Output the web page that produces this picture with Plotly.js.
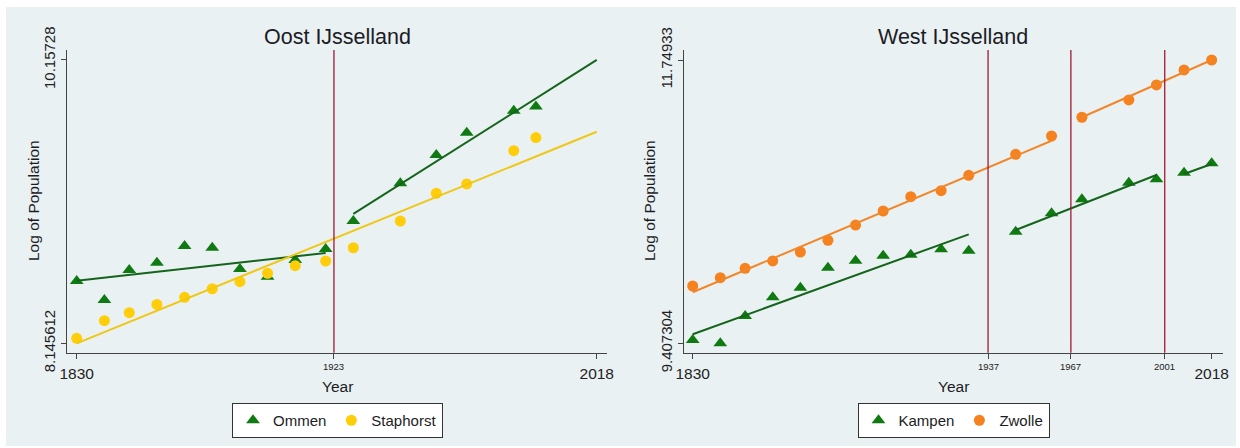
<!DOCTYPE html>
<html>
<head>
<meta charset="utf-8">
<script src="https://cdn.plot.ly/plotly-3.0.1.min.js"></script>
<style>
  html, body { margin: 0; padding: 0; background: #ffffff; }
  #chart { width: 1240px; height: 448px; }
</style>
</head>
<body>
<div id="chart"></div>
<script>
// ---- Oost IJsselland: census years and log population ----
const oostYears = [1830, 1840, 1849, 1859, 1869, 1879, 1889, 1899, 1909, 1920, 1930, 1947, 1960, 1971, 1988, 1996];
const ommen     = [8.588, 8.453, 8.666, 8.718, 8.837, 8.824, 8.673, 8.619, 8.737, 8.815, 9.014, 9.282, 9.483, 9.641, 9.797, 9.826];
const staphorst = [8.181, 8.306, 8.363, 8.422, 8.472, 8.533, 8.583, 8.643, 8.697, 8.730, 8.824, 9.014, 9.211, 9.277, 9.513, 9.606];

// Linear fits (segment end points)
const ommenFitAYears = [1830, 1920];
const ommenFitA      = [8.590, 8.787];
const ommenFitBYears = [1930, 2018];
const ommenFitB      = [9.064, 10.15728];
const staphorstFitYears = [1830, 2018];
const staphorstFit      = [8.145612, 9.648];

// ---- West IJsselland ----
const westYears = [1830, 1840, 1849, 1859, 1869, 1879, 1889, 1899, 1909, 1920, 1930, 1947, 1960, 1971, 1988, 1998, 2008, 2018];
const kampen    = [9.435, 9.407304, 9.633, 9.788, 9.867, 10.032, 10.090, 10.132, 10.140, 10.184, 10.173, 10.330, 10.482, 10.598, 10.735, 10.763, 10.818, 10.895];
const zwolle    = [9.881, 9.950, 10.027, 10.088, 10.162, 10.259, 10.385, 10.501, 10.619, 10.669, 10.796, 10.970, 11.121, 11.276, 11.419, 11.543, 11.667, 11.74933];

const kampenFitAYears = [1830, 1930];
const kampenFitA      = [9.482, 10.308];
const kampenFitBYears = [1947, 1998];
const kampenFitB      = [10.344, 10.799];
const kampenFitCYears = [2008, 2018];
const kampenFitC      = [10.807, 10.890];
const zwolleFitAYears = [1830, 1960];
const zwolleFitA      = [9.829, 11.082];
const zwolleFitBYears = [1971, 2018];
const zwolleFitB      = [11.276, 11.74933];

// Structural break years
const oostBreaks = [1923];
const westBreaks = [1937, 1967, 2001];

// Axis ticks
const oostXTicks = [1830, 1923, 2018];
const westXTicks = [1830, 1937, 1967, 2001, 2018];
const oostYTicks = [8.145612, 10.15728];
const westYTicks = [9.407304, 11.74933];
const majorYears = [1830, 2018];

// ---- styling ----
const GREEN_MK = '#0f7a12';
const GREEN_LN = '#14641b';
const YELLOW_MK = '#ffcd0a';
const YELLOW_LN = '#efc716';
const ORANGE_MK = '#f5821f';
const ORANGE_LN = '#f2862a';
const BREAK_RED = '#a01a34';
const AXIS_COL = '#444444';
const TEXT_COL = '#1c1c24';
const BG = '#eaf1f3';
const FONT = 'Liberation Sans, Arial, sans-serif';

function markers(x, y, name, symbol, color, size, xa, ya, legend) {
  return {
    type: 'scatter', mode: 'markers', x: x, y: y, name: name,
    xaxis: xa, yaxis: ya, legend: legend,
    marker: { symbol: symbol, color: color, size: size, line: { width: 0 } },
    hoverinfo: 'x+y'
  };
}
function fitLine(x, y, color, xa, ya) {
  return {
    type: 'scatter', mode: 'lines', x: x, y: y, showlegend: false,
    xaxis: xa, yaxis: ya,
    line: { color: color, width: 2 }, hoverinfo: 'skip'
  };
}

const traces = [
  markers(oostYears, ommen, 'Ommen', 'triangle-up', GREEN_MK, 12, 'x', 'y', 'legend'),
  markers(oostYears, staphorst, 'Staphorst', 'circle', YELLOW_MK, 11, 'x', 'y', 'legend'),
  fitLine(ommenFitAYears, ommenFitA, GREEN_LN, 'x', 'y'),
  fitLine(ommenFitBYears, ommenFitB, GREEN_LN, 'x', 'y'),
  fitLine(staphorstFitYears, staphorstFit, YELLOW_LN, 'x', 'y'),

  markers(westYears, kampen, 'Kampen', 'triangle-up', GREEN_MK, 12, 'x2', 'y2', 'legend2'),
  markers(westYears, zwolle, 'Zwolle', 'circle', ORANGE_MK, 11, 'x2', 'y2', 'legend2'),
  fitLine(kampenFitAYears, kampenFitA, GREEN_LN, 'x2', 'y2'),
  fitLine(kampenFitBYears, kampenFitB, GREEN_LN, 'x2', 'y2'),
  fitLine(kampenFitCYears, kampenFitC, GREEN_LN, 'x2', 'y2'),
  fitLine(zwolleFitAYears, zwolleFitA, ORANGE_LN, 'x2', 'y2'),
  fitLine(zwolleFitBYears, zwolleFitB, ORANGE_LN, 'x2', 'y2')
];

const W = 1240, H = 448;
const px = v => v / W;
const py = v => 1 - v / H;

// Break years get small labels (drawn as annotations); end years use the tick font
function xAxis(domain, range, ticks, anchor) {
  return {
    domain: domain, range: range, anchor: anchor,
    tickmode: 'array', tickvals: ticks,
    ticktext: ticks.map(v => majorYears.includes(v) ? String(v) : ''),
    ticks: 'outside', ticklen: 5, tickcolor: AXIS_COL, tickwidth: 1,
    ticklabelstandoff: 2,
    showline: true, linecolor: AXIS_COL, linewidth: 1,
    showgrid: false, zeroline: false,
    tickfont: { family: FONT, size: 15.5, color: '#222' }
  };
}
function yAxis(range, ticks, anchor) {
  return {
    domain: [py(352.7), py(50)], range: range, anchor: anchor,
    tickmode: 'array', tickvals: ticks, ticktext: ticks.map(String),
    tickangle: -90,
    ticks: 'outside', ticklen: 5, tickcolor: AXIS_COL, tickwidth: 1,
    showline: true, linecolor: AXIS_COL, linewidth: 1,
    showgrid: true, gridcolor: '#edf2f4', gridwidth: 1, zeroline: false,
    tickfont: { family: FONT, size: 15, color: '#222' }
  };
}

const shapes = [
  { type: 'rect', xref: 'paper', yref: 'paper', x0: px(6), x1: px(1236), y0: py(446), y1: py(7),
    fillcolor: BG, line: { width: 0 }, layer: 'below' }
];
oostBreaks.forEach(b => shapes.push({
  type: 'line', xref: 'x', yref: 'y domain', x0: b, x1: b, y0: 0, y1: 1,
  line: { color: BREAK_RED, width: 1.3 }
}));
westBreaks.forEach(b => shapes.push({
  type: 'line', xref: 'x2', yref: 'y2 domain', x0: b, x1: b, y0: 0, y1: 1,
  line: { color: BREAK_RED, width: 1.3 }
}));

function ann(text, x, y, size, angle) {
  return { text: text, xref: 'paper', yref: 'paper', x: px(x), y: py(y),
    xanchor: 'center', yanchor: 'middle', showarrow: false, textangle: angle || 0,
    font: { family: FONT, size: size, color: TEXT_COL } };
}
function breakLabel(year, xref) {
  return { text: String(year), xref: xref, yref: 'paper', x: year, y: py(366),
    xanchor: 'center', yanchor: 'middle', showarrow: false,
    font: { family: FONT, size: 9.5, color: '#222' } };
}

const annotations = [
  ann('Oost IJsselland', 337, 37, 21.5),
  ann('West IJsselland', 953, 37, 21.5),
  ann('Year', 337, 386, 15.5),
  ann('Year', 953, 386, 15.5),
  ann('Log of Population', 33, 201, 15.5, -90),
  ann('Log of Population', 649, 201, 15.5, -90)
].concat(oostBreaks.map(b => breakLabel(b, 'x')))
 .concat(westBreaks.map(b => breakLabel(b, 'x2')));

function legendBox(cx) {
  return {
    orientation: 'h', x: px(cx), xanchor: 'center', y: py(403), yanchor: 'top',
    bgcolor: '#ffffff', bordercolor: '#333333', borderwidth: 1,
    font: { family: FONT, size: 15, color: TEXT_COL },
    itemwidth: 30, tracegroupgap: 0
  };
}

const layout = {
  width: W, height: H,
  margin: { l: 0, r: 0, t: 0, b: 0 },
  paper_bgcolor: '#ffffff', plot_bgcolor: '#ffffff',
  font: { family: FONT },
  showlegend: true,
  xaxis: xAxis([px(67.3), px(606.7)], [1826.6, 2021.6], oostXTicks, 'y'),
  yaxis: yAxis([8.079, 10.228], oostYTicks, 'x'),
  xaxis2: xAxis([px(684), px(1222.7)], [1826.85, 2022.0], westXTicks, 'y2'),
  yaxis2: yAxis([9.3296, 11.832], westYTicks, 'x2'),
  legend: legendBox(337.5),
  legend2: legendBox(953.5),
  shapes: shapes,
  annotations: annotations
};

Plotly.newPlot('chart', traces, layout, { displayModeBar: false, staticPlot: true });
</script>
</body>
</html>
